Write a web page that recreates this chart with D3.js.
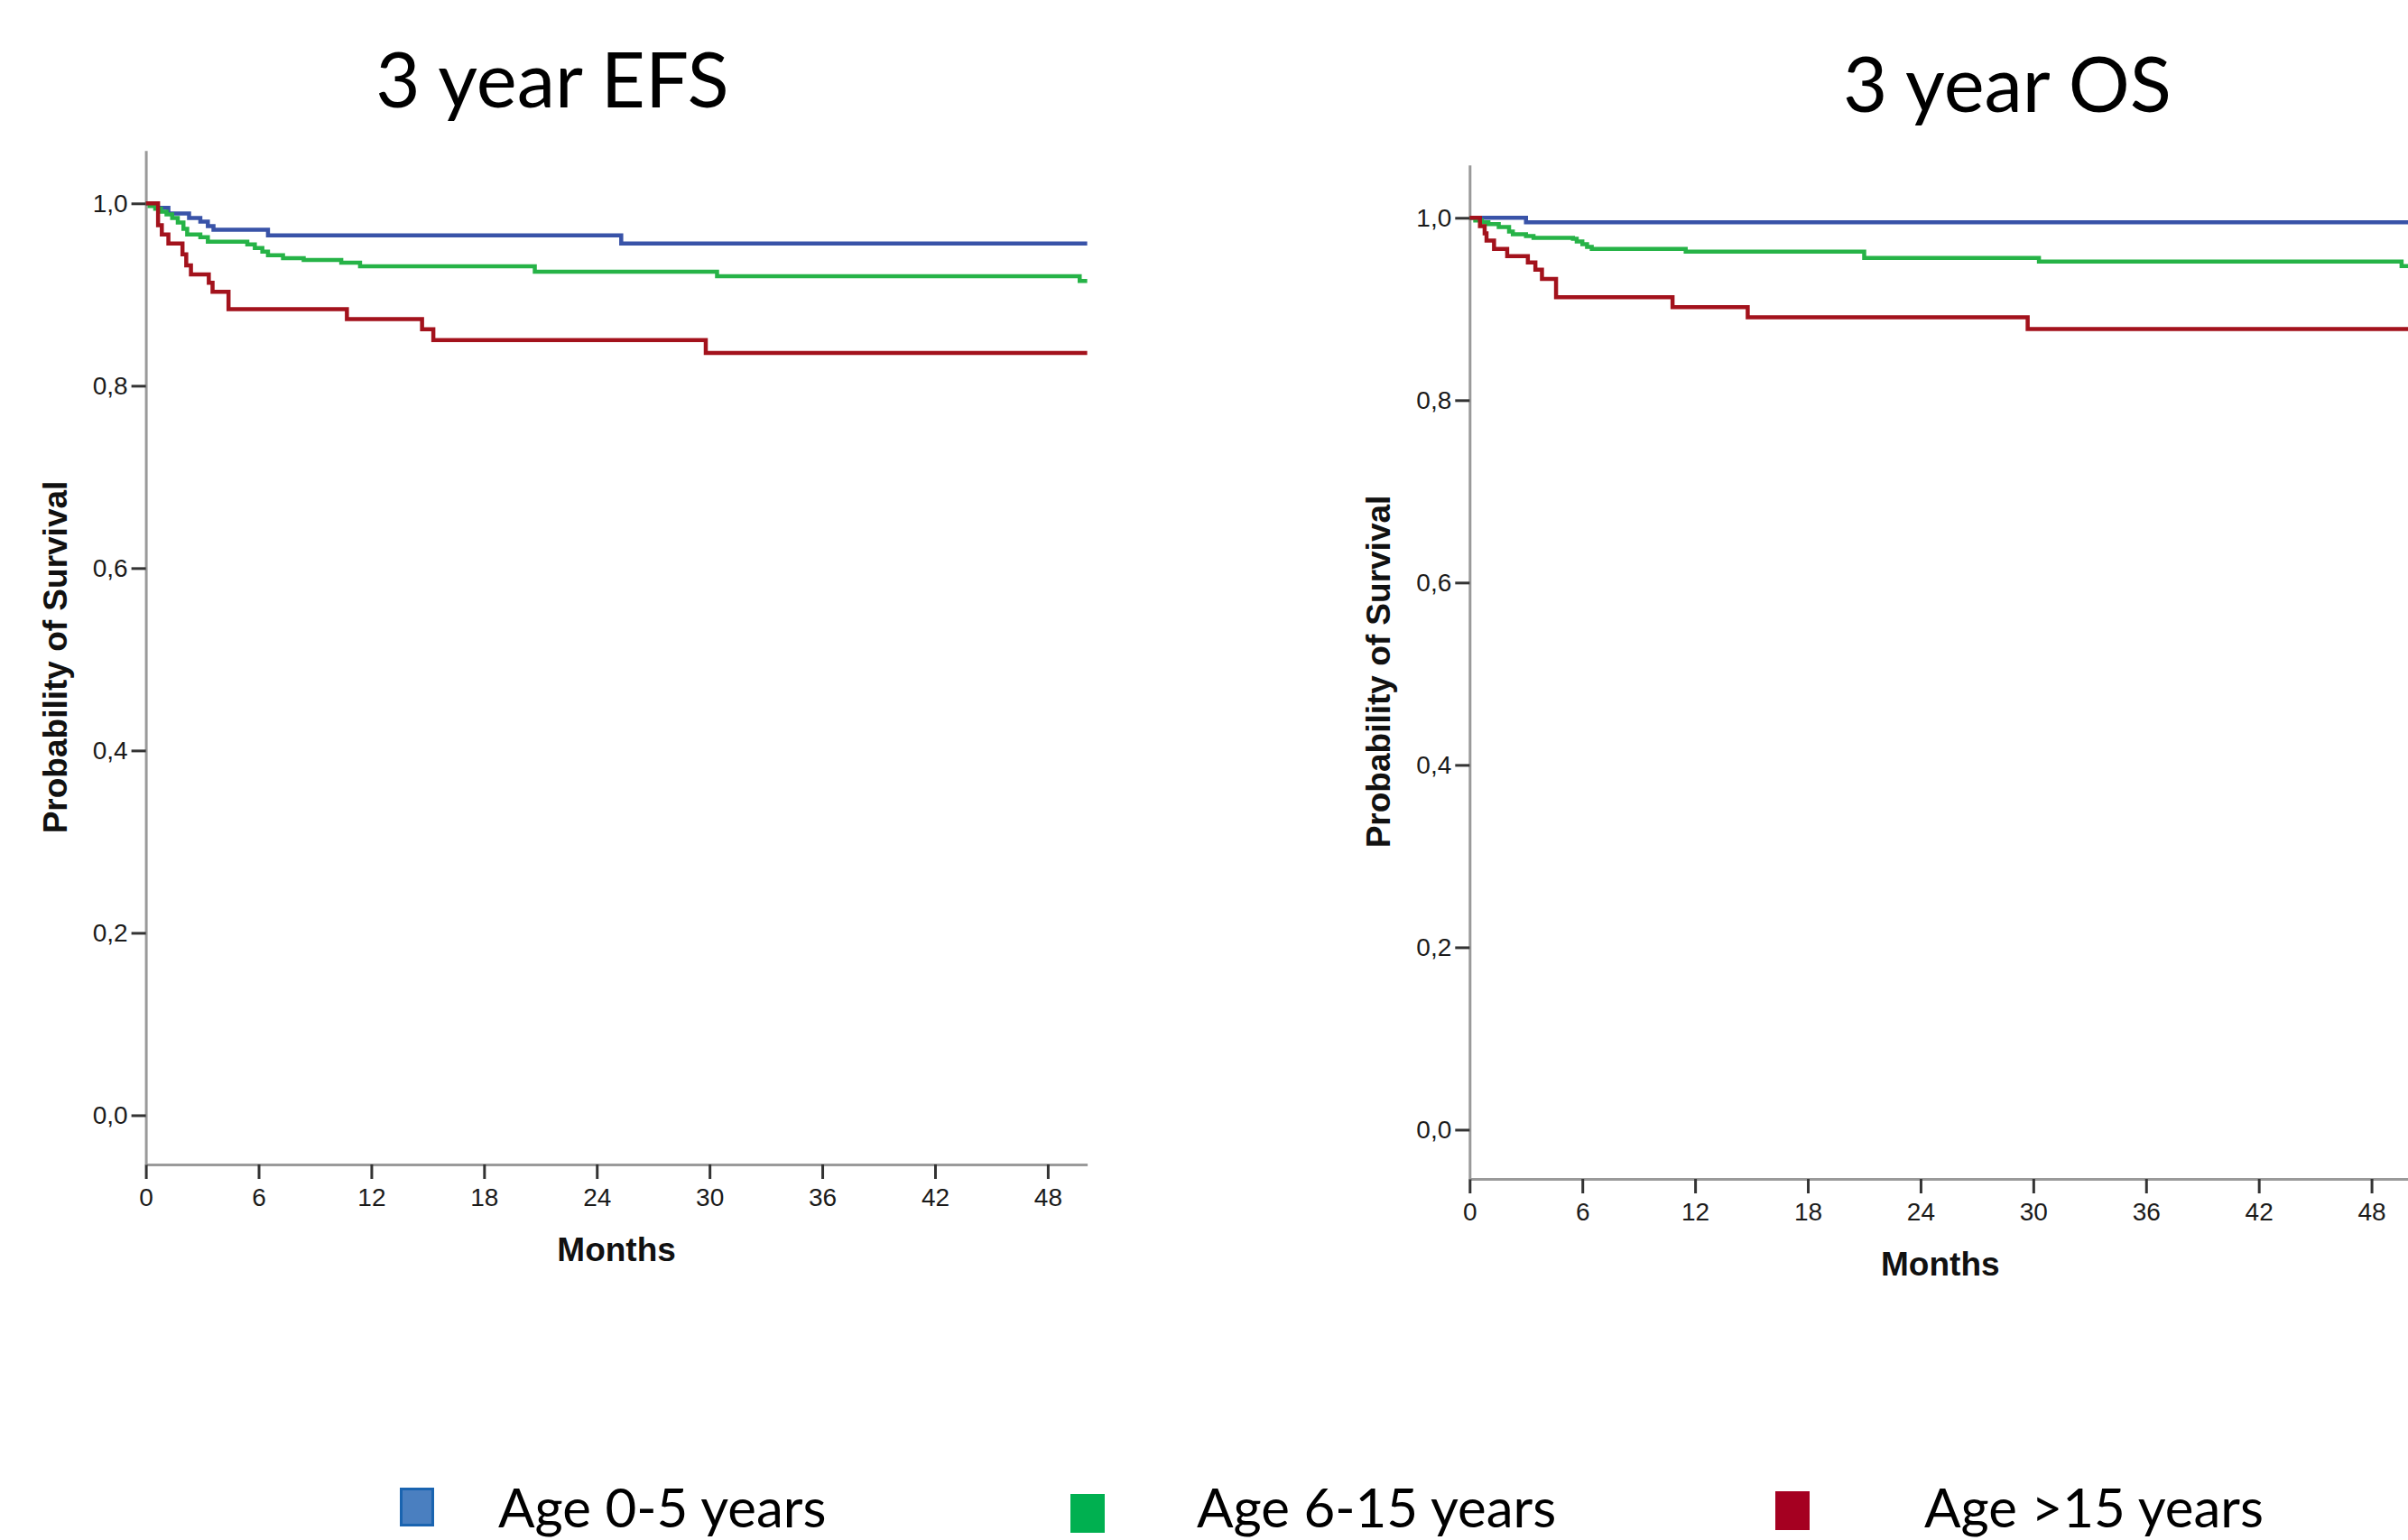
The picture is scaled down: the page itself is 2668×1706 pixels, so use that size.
<!DOCTYPE html>
<html>
<head>
<meta charset="utf-8">
<script src="https://cdn.jsdelivr.net/npm/d3@7"></script>
<style>
  body { margin: 0; background: #fff; }
  svg { display: block; }
  .tick text { font-family: "Liberation Sans", Arial, sans-serif; font-size: 28px; fill: #1a1a1a; }
  .domain { stroke: #9a9a9a; stroke-width: 3; }
  .tick line { stroke: #333; stroke-width: 3; }
  .axis-title { font-family: "Liberation Sans", Arial, sans-serif; font-weight: bold; font-size: 37px; fill: #111; }
  .chart-title { font-family: Lato, "Open Sans", sans-serif; font-size: 85px; fill: #000; }
  .legend-text { font-family: Lato, "Open Sans", sans-serif; font-size: 60px; fill: #000; }
</style>
</head>
<body>
<script>
// tick values
var monthTicks = [0, 6, 12, 18, 24, 30, 36, 42, 48];
var survTicks = [0, 0.2, 0.4, 0.6, 0.8, 1.0];

var groups = ["Age 0-5 years", "Age 6-15 years", "Age >15 years"];
var lineColors = ["#3953a8", "#26b347", "#a3121c"];

// Kaplan-Meier steps (months, survival)
var efsYoungT = [0, 0.6, 1.2, 2.3, 2.9, 3.3, 3.6, 6.5, 25.3, 50.1];
var efsYoungS = [1, 0.995, 0.989, 0.984, 0.980, 0.975, 0.971, 0.965, 0.956, 0.956];

var efsMidT = [0, 0.2, 0.5, 0.8, 1.1, 1.4, 1.7, 2.0, 2.2, 2.9, 3.3, 5.4, 5.8, 6.2, 6.5, 7.3, 8.4, 10.4, 11.4, 20.7, 30.4, 49.7, 50.1];
var efsMidS = [1, 0.997, 0.994, 0.991, 0.988, 0.984, 0.979, 0.972, 0.966, 0.963, 0.958, 0.955, 0.951, 0.947, 0.943, 0.940, 0.938, 0.935, 0.931, 0.925, 0.920, 0.915, 0.915];

var efsOldT = [0, 0.65, 0.85, 1.2, 1.95, 2.15, 2.4, 3.35, 3.55, 4.4, 10.7, 14.7, 15.3, 29.8, 50.1];
var efsOldS = [1, 0.976, 0.966, 0.956, 0.944, 0.932, 0.922, 0.913, 0.903, 0.884, 0.873, 0.862, 0.850, 0.836, 0.836];

var osYoungT = [0, 3.0, 50.1];
var osYoungS = [1, 0.995, 0.995];

var osMidT = [0, 0.3, 0.65, 1.0, 1.55, 2.1, 2.3, 3.0, 3.4, 5.5, 5.7, 6.0, 6.25, 6.5, 11.5, 21.0, 30.3, 49.6, 50.1];
var osMidS = [1, 0.997, 0.995, 0.993, 0.990, 0.985, 0.982, 0.980, 0.978, 0.977, 0.974, 0.971, 0.968, 0.966, 0.963, 0.956, 0.952, 0.947, 0.947];

var osOldT = [0, 0.55, 0.8, 0.9, 1.3, 2.0, 3.1, 3.5, 3.85, 4.6, 10.8, 14.8, 29.7, 50.1];
var osOldS = [1, 0.991, 0.983, 0.975, 0.966, 0.958, 0.951, 0.943, 0.933, 0.913, 0.902, 0.891, 0.878, 0.878];

var W = 2668, H = 1706;
var svg = d3.select("body").append("svg")
    .attr("width", W)
    .attr("height", H);

function zip(t, s) {
  return t.map(function (d, i) { return {t: d, s: s[i]}; });
}

function drawPanel(ox, oy, series) {
  var x = d3.scaleLinear().domain([0, 50.1]).range([ox, ox + 1043]);
  var y = d3.scaleLinear().domain([-0.054, 1.058]).range([oy + 1290, oy + 166.7]);

  svg.append("g")
      .attr("transform", "translate(0," + (oy + 1290) + ")")
      .call(d3.axisBottom(x).tickValues(monthTicks).tickSize(16).tickSizeOuter(0).tickPadding(10));

  svg.append("g")
      .attr("transform", "translate(" + ox + ",0)")
      .call(d3.axisLeft(y).tickValues(survTicks).tickSize(16).tickSizeOuter(0).tickPadding(4)
        .tickFormat(function (d) { return d3.format(".1f")(d).replace(".", ","); }));

  var line = d3.line()
      .curve(d3.curveStepAfter)
      .x(function (d) { return x(d.t); })
      .y(function (d) { return y(d.s); });

  series.forEach(function (s, i) {
    svg.append("path")
        .datum(s)
        .attr("fill", "none")
        .attr("stroke", lineColors[i])
        .attr("stroke-width", 4.5)
        .attr("d", line);
  });

  svg.append("text")
      .attr("class", "axis-title")
      .attr("text-anchor", "middle")
      .attr("x", ox + 521.5)
      .attr("y", oy + 1397)
      .text("Months");

  svg.append("text")
      .attr("class", "axis-title")
      .attr("text-anchor", "middle")
      .attr("transform", "translate(" + (ox - 88) + "," + (oy + 728) + ") rotate(-90)")
      .text("Probability of Survival");
}

drawPanel(161.6, 0, [zip(efsYoungT, efsYoungS), zip(efsMidT, efsMidS), zip(efsOldT, efsOldS)]);
drawPanel(1628.3, 16, [zip(osYoungT, osYoungS), zip(osMidT, osMidS), zip(osOldT, osOldS)]);

svg.append("text").attr("class", "chart-title")
    .attr("text-anchor", "middle").attr("x", 612).attr("y", 119)
    .text("3 year EFS");
svg.append("text").attr("class", "chart-title")
    .attr("text-anchor", "middle").attr("x", 2224).attr("y", 124)
    .text("3 year OS");

// legend
var legendFill = ["#4a7fc0", "#00b050", "#a50021"];
var legendStroke = ["#1a64b0", "#00b050", "#a50021"];
var legendX = [443, 1186, 1967];
var legendTop = [1648, 1655, 1652];
var legendTextX = [552, 1326, 2132];

groups.forEach(function (g, i) {
  svg.append("rect")
      .attr("x", legendX[i] + 1.5)
      .attr("y", legendTop[i] + 1.5)
      .attr("width", 35)
      .attr("height", 40)
      .attr("fill", legendFill[i])
      .attr("stroke", legendStroke[i])
      .attr("stroke-width", 3);
  svg.append("text")
      .attr("class", "legend-text")
      .attr("x", legendTextX[i])
      .attr("y", 1692)
      .text(g);
});
</script>
</body>
</html>
